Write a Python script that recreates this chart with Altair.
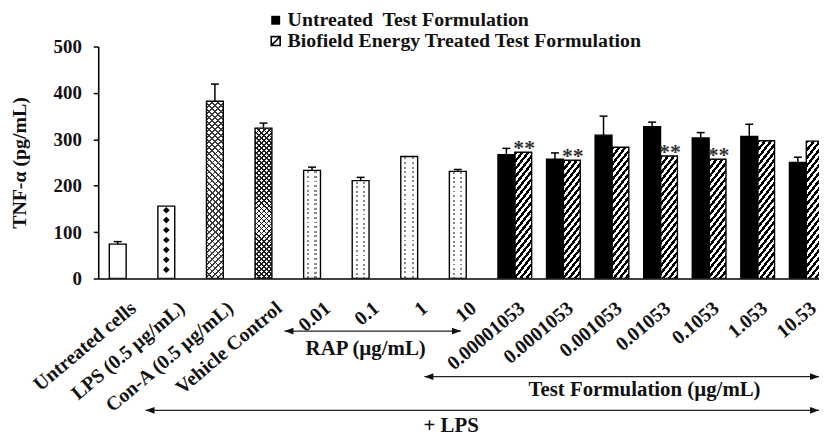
import json
import math
import altair as alt

# ---------------- data ----------------
categories = ["Untreated cells", "LPS (0.5 µg/mL)", "Con-A (0.5 µg/mL)", "Vehicle Control",
              "0.01", "0.1", "1", "10",
              "0.00001053", "0.0001053", "0.001053", "0.01053", "0.1053", "1.053", "10.53"]
control_values = [74, 156, 382, 324, 233, 211, 263, 231]
control_errors = [5.5, 0, 37, 11, 7, 7, 0, 4]
control_patterns = ["open", "diamond", "crosshatch", "dense", "dots", "dots", "dots", "dots"]
untreated_values = [267, 257, 309, 327, 303, 306, 250]
untreated_errors = [13.5, 13.7, 41, 10, 11.5, 26.5, 11.5]
treated_values = [272, 255, 283, 264, 257, 297, 296]
treated_errors = [0, 0, 0, 0, 0, 0, 0]
treated_sig = ["**", "**", "", "**", "**", "", ""]
legend_labels = ["Untreated\u00a0 Test Formulation", "Biofield Energy Treated Test Formulation"]
y_ticks = [0, 100, 200, 300, 400, 500]
bracket_labels = ["RAP (µg/mL)", "Test Formulation (µg/mL)", "+ LPS"]

# ---------------- layout / style ----------------
PLOT_W = 727
PLOT_H = 234
STEP_PX = 49.0
X_LO = -0.575
X_HI = X_LO + PLOT_W / STEP_PX
BAR_PX = 17.0
BAR_U = BAR_PX / STEP_PX
PX_PER_VAL = PLOT_H / 500.0
FONT = "Liberation Serif"
CLEAR = "rgba(0,0,0,0)"
# bracket spans in category units and pixel rows
bracket_spans = [(3.26, 6.89, 4.93), (6.14, X_HI, 10.67), (0.40, X_HI, 6.69)]
bracket_line_y = [287, 333, 367]
bracket_text_y = [305, 347, 383]

xs = alt.Scale(domain=[X_LO, X_HI], nice=False, zero=False)
ys = alt.Scale(domain=[0, 500], nice=False, zero=False)


def stripes(w, h, angle, period, on_frac, on_color, off_color, phase=0.0, mirror=False):
    a = math.radians(angle)
    nx, ny = math.sin(a), math.cos(a)
    if mirror:
        ny = -ny
    x0 = 0 if nx >= 0 else 1
    y0 = 0 if ny >= 0 else 1
    L = w * abs(nx) + h * abs(ny)
    k = L / (w * w * nx * nx + h * h * ny * ny)
    dx, dy = k * w * nx, k * h * ny
    stops = []
    s = (phase % period) - period
    while s < L:
        for a0, a1, c in ((s, s + on_frac * period, on_color), (s + on_frac * period, s + period, off_color)):
            lo, hi = max(a0, 0.0), min(a1, L)
            if hi > lo:
                stops.append({"offset": round(lo / L, 5), "color": c})
                stops.append({"offset": round(hi / L, 5), "color": c})
        s += period
    return {"gradient": "linear", "x1": x0, "y1": y0, "x2": x0 + dx, "y2": y0 + dy, "stops": stops}


def patterns(kind, h):
    w = BAR_PX
    h = max(h, 1.0)
    if kind == "crosshatch":
        return ("white", stripes(w, h, 45, 4.3, 0.3, "#3a3a3a", CLEAR),
                stripes(w, h, 45, 4.3, 0.3, "#3a3a3a", CLEAR, mirror=True))
    if kind == "dense":
        return ("white", stripes(w, h, 45, 3.6, 0.34, "#1e1e1e", CLEAR),
                stripes(w, h, 45, 3.6, 0.34, "#1e1e1e", CLEAR, mirror=True))
    if kind == "dots":
        return ("white", stripes(w, h, 0, 4.6, 0.42, "#8a8a8a", CLEAR, phase=1.0),
                stripes(w, h, 90, 7.5, 2.2 / 7.5, CLEAR, "white", phase=3.4))
    if kind == "solid":
        return ("black", CLEAR, CLEAR)
    if kind == "hatch":
        return ("white", stripes(w, h, 52, 4.8, 0.5, "black", CLEAR), CLEAR)
    return ("white", CLEAR, CLEAR)


bar_records, err_records, star_records = [], [], []


def add_bar(x0, x1, v, err, kind, sig=""):
    base, p1, p2 = patterns(kind, v * PX_PER_VAL)
    bar_records.append({"x0": x0, "x1": x1, "v": v, "zero": 0, "base": base, "p1": p1, "p2": p2})
    cx = (x0 + x1) / 2
    if err > 0:
        err_records.append({"cx": cx, "v": v, "top": v + err})
    if sig:
        star_records.append({"cx": cx, "v": v, "s": sig})


for i, (v, e, kind) in enumerate(zip(control_values, control_errors, control_patterns)):
    add_bar(i - BAR_U, i, v, e, kind)
n0 = len(control_values)
for j in range(len(untreated_values)):
    i = n0 + j
    add_bar(i - BAR_U, i, untreated_values[j], untreated_errors[j], "solid")
    add_bar(i, i + BAR_U, treated_values[j], treated_errors[j], "hatch", treated_sig[j])

# diamonds of the LPS bar pattern
lps_v = control_values[1]
diamond_step = 10.0 / PX_PER_VAL
diamond_records = []
k = 0
while 19 + k * diamond_step < lps_v - 4:
    diamond_records.append({"cx": 1 - BAR_U / 2, "y": 19 + k * diamond_step})
    k += 1

bars_data = alt.Data(values=bar_records)
label_expr = json.dumps(categories, ensure_ascii=False) + "[round(datum.value)]"

x_axis = alt.Axis(values=list(range(len(categories))), labelExpr=label_expr, title=None,
                  grid=False, ticks=False, tickSize=0, labelAngle=320, labelAlign="right",
                  labelBaseline="middle", labelPadding=27, labelOffset=7, labelOverlap=False,
                  labelFlush=False, labelBound=False, labelLimit=0, labelFont=FONT,
                  labelFontSize=20, labelFontWeight="bold", labelColor="#111",
                  domainColor="black", domainWidth=1.6, zindex=1)
y_axis = alt.Axis(values=y_ticks, title="TNF-α (pg/mL)", grid=False, tickSize=5, tickWidth=1.5,
                  tickColor="black", domainColor="black", domainWidth=1.6, labelPadding=12,
                  labelFont=FONT, labelFontSize=19, labelFontWeight="bold", labelColor="#111",
                  titleFont=FONT, titleFontSize=20, titleFontWeight="bold", titleColor="#111",
                  titleX=-79, titleY=PLOT_H / 2, titleAngle=270, titleAlign="center",
                  titleBaseline="middle", zindex=1)


def X(field):
    return alt.X(field, scale=xs, axis=x_axis)


def Y(field):
    return alt.Y(field, scale=ys, axis=y_axis)


def bar_layer(field=None, **mark_kw):
    enc = dict(x=X("x0:Q"), x2="x1:Q", y=Y("v:Q"), y2="zero:Q")
    if field:
        enc["fill"] = alt.Fill(f"{field}:N", scale=None)
    return alt.Chart(bars_data).mark_bar(clip=True, **mark_kw).encode(**enc)


layers = [
    bar_layer("base"),
    bar_layer("p1"),
    bar_layer("p2"),
    bar_layer(None, fillOpacity=0, stroke="black", strokeWidth=1.4),
]

layers.append(alt.Chart(alt.Data(values=diamond_records)).mark_point(
    shape="diamond", filled=True, color="black", size=45, opacity=1).encode(
    x=X("cx:Q"), y=Y("y:Q")))

err_data = alt.Data(values=err_records)
layers.append(alt.Chart(err_data).mark_rule(color="black", strokeWidth=1.5).encode(
    x=X("cx:Q"), y=Y("v:Q"), y2="top:Q"))
layers.append(alt.Chart(err_data).mark_tick(orient="horizontal", size=8, thickness=1.5,
                                            color="black", opacity=1).encode(
    x=X("cx:Q"), y=Y("top:Q")))

layers.append(alt.Chart(alt.Data(values=star_records)).mark_text(
    font=FONT, fontSize=22, fontWeight="bold", color="#333", align="center",
    baseline="alphabetic", dx=1, dy=3).encode(
    x=X("cx:Q"), y=Y("v:Q"), text="s:N"))

# brackets with arrows
left_head = "M-1,0L1,-0.75L1,0.75Z"
right_head = "M1,0L-1,-0.75L-1,0.75Z"
for (s, e, lx), label, ly, ty in zip(bracket_spans, bracket_labels, bracket_line_y, bracket_text_y):
    bd = alt.Data(values=[{"s": s, "e": e, "lx": lx, "label": label}])
    layers.append(alt.Chart(bd).mark_rule(color="#222", strokeWidth=1.3).encode(
        x=X("s:Q"), x2="e:Q", y=alt.value(ly)))
    layers.append(alt.Chart(bd).mark_point(shape=left_head, filled=True, color="#111", size=81,
                                           opacity=1, xOffset=4.5).encode(
        x=X("s:Q"), y=alt.value(ly)))
    layers.append(alt.Chart(bd).mark_point(shape=right_head, filled=True, color="#111", size=81,
                                           opacity=1, xOffset=-4.5).encode(
        x=X("e:Q"), y=alt.value(ly)))
    layers.append(alt.Chart(bd).mark_text(font=FONT, fontSize=21, fontWeight="bold", color="#111",
                                          align="center", baseline="middle").encode(
        x=X("lx:Q"), y=alt.value(ty), text="label:N"))

# legend
legend_rows = [(-26.5, "M-1,-1H1V1H-1Z", True), (-5.5, "M-1,-1H1V1H-1Z M-0.8,0.8L0.8,-0.8", False)]
for label, (ly, shape, filled) in zip(legend_labels, legend_rows):
    ld = alt.Data(values=[{"label": label}])
    if filled:
        sym = alt.Chart(ld).mark_point(shape=shape, filled=True, color="black", size=81, opacity=1)
    else:
        sym = alt.Chart(ld).mark_point(shape=shape, filled=False, stroke="black", strokeWidth=1.6,
                                       size=81, opacity=1)
    layers.append(sym.encode(x=alt.value(179), y=alt.value(ly)))
    layers.append(alt.Chart(ld).mark_text(font=FONT, fontSize=20, fontWeight="bold", color="#111",
                                          align="left", baseline="middle").encode(
        x=alt.value(191), y=alt.value(ly), text="label:N"))

chart = alt.layer(*layers).properties(
    width=PLOT_W, height=PLOT_H,
    autosize=alt.AutoSizeParams(type="none"),
    padding={"left": 91, "top": 37, "right": 0, "bottom": 157},
    background="white",
).configure_view(strokeWidth=0)

chart.save("out.html", embed_options={"renderer": "svg", "actions": False})
